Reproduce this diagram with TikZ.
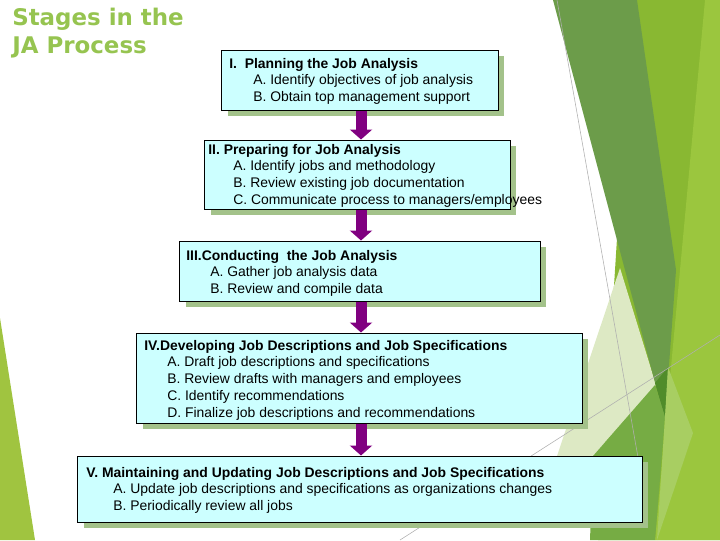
\documentclass[tikz,border=0pt]{standalone}
\usepackage{fontspec}
\setmainfont{Liberation Sans}
\newfontfamily\titlefont{DejaVu Sans}
\usetikzlibrary{arrows.meta,shadows}
\definecolor{boxcyan}{RGB}{204,255,255}
\definecolor{shadowgreen}{RGB}{163,194,138}
\definecolor{arrowpurple}{RGB}{128,0,128}
\definecolor{titlegreen}{RGB}{150,196,80}
\definecolor{wedgegreen}{RGB}{160,196,64}
\definecolor{darkleaf}{RGB}{108,156,74}
\definecolor{deepleaf}{RGB}{80,140,42}
\definecolor{limeleaf}{RGB}{137,184,50}
\definecolor{lightlime}{RGB}{155,198,62}
\definecolor{paleleaf}{RGB}{221,233,196}
\definecolor{midleaf}{RGB}{118,172,68}
\definecolor{softlime}{RGB}{168,206,98}
\definecolor{thingray}{RGB}{175,175,175}
\newcommand{\stageitem}[2][0.6cm]{\hspace*{#1}#2}
\newcommand{\stagelines}[1]{\begin{tabular}[t]{@{}l@{}}#1\end{tabular}}
\tikzset{
  stagebox/.style={
    draw=black,
    line width=0.7pt,
    fill=boxcyan,
    inner sep=0pt,
    drop shadow={shadow xshift=0.15cm, shadow yshift=-0.16cm, fill=shadowgreen, opacity=1}
  },
  stagetext/.style={
    anchor=base west,
    inner sep=0pt,
    font=\fontsize{9.9}{12.05}\selectfont
  },
  stagearrow/.style={
    draw=arrowpurple,
    line width=0.275cm,
    -{Triangle[width=0.55cm,length=0.25cm,fill=arrowpurple]}
  }
}

\begin{document}
\begin{tikzpicture}[x=0.025cm, y=-0.025cm]
  \useasboundingbox (0,0) rectangle (720,540);
  % background leaves
  \fill[wedgegreen] (0,318) -- (35,540) -- (0,540) -- cycle;
  \fill[limeleaf] (632,0) -- (720,0) -- (720,540) -- (598,540) -- cycle;
  \fill[lightlime] (705,0) -- (720,0) -- (720,540) -- (655,540) -- (680,270) -- cycle;
  \fill[paleleaf] (620,268) -- (656,385) -- (593,456) -- (555,462) -- cycle;
  \fill[darkleaf] (553,0) -- (637,0) -- (676,270) -- (665,420) -- cycle;
  \fill[deepleaf] (655,383) -- (668,367) -- (665,417) -- cycle;
  \fill[midleaf] (593,456) -- (655,385) -- (665,417) -- (655,540) -- (590,540) -- cycle;
  \fill[softlime] (668,367) -- (693,433) -- (657,540) -- (665,417) -- cycle;
  \draw[thingray, line width=0.4pt] (557,0) -- (642,480);
  \draw[thingray, line width=0.4pt] (400,540) -- (720,335);

  % title
  \node[anchor=base west, inner sep=0pt, text=titlegreen,
        font=\titlefont\bfseries\fontsize{16.3}{20.6}\selectfont] (title) at (12,25)
        {\stagelines{Stages in the\\JA Process}};

  % stages
  \node[stagebox, minimum width=6.9cm, minimum height=1.5cm] (s1) at (360,80) {};
  \node[stagebox, minimum width=7.625cm, minimum height=1.725cm] (s2) at (357.5,174.5) {};
  \node[stagebox, minimum width=9cm, minimum height=1.5cm] (s3) at (360,271) {};
  \node[stagebox, minimum width=11.125cm, minimum height=2.25cm] (s4) at (359.5,378) {};
  \node[stagebox, minimum width=14.1cm, minimum height=1.65cm] (s5) at (360,489) {};

  \node[stagetext] (t1) at (229,68) {\stagelines{\textbf{I.\ \ Planning the Job Analysis}\\
    \stageitem{A. Identify objectives of job analysis}\\
    \stageitem{B. Obtain top management support}}};
  \node[stagetext] (t2) at (208,154) {\stagelines{\textbf{II. Preparing for Job Analysis}\\
    \stageitem[0.625cm]{A. Identify jobs and methodology}\\
    \stageitem[0.625cm]{B. Review existing job documentation}\\
    \stageitem[0.625cm]{C. Communicate process to managers/employees}}};
  \node[stagetext] (t3) at (186,260) {\stagelines{\textbf{III.Conducting\ \ the Job Analysis}\\
    \stageitem{A. Gather job analysis data}\\
    \stageitem{B. Review and compile data}}};
  \node[stagetext] (t4) at (144,350) {\stagelines{\textbf{IV.Developing Job Descriptions and Job Specifications}\\
    \stageitem[0.575cm]{A. Draft job descriptions and specifications}\\
    \stageitem[0.575cm]{B. Review drafts with managers and employees}\\
    \stageitem[0.575cm]{C. Identify recommendations}\\
    \stageitem[0.575cm]{D. Finalize job descriptions and recommendations}}};
  \node[stagetext] (t5) at (86,477) {\stagelines{\textbf{V. Maintaining and Updating Job Descriptions and Job Specifications}\\
    \stageitem[0.675cm]{A. Update job descriptions and specifications as organizations changes}\\
    \stageitem[0.675cm]{B. Periodically review all jobs}}};

  % arrows
  \draw[stagearrow] ([xshift=0.025cm]s1.south) -- ([xshift=0.025cm]s1.south |- s2.north);
  \draw[stagearrow] ([xshift=0.025cm]s1.south |- s2.south) -- ([xshift=0.025cm]s1.south |- s3.north);
  \draw[stagearrow] ([xshift=0.025cm]s3.south) -- ([xshift=0.025cm]s3.south |- s4.north);
  \draw[stagearrow] ([xshift=0.025cm]s3.south |- s4.south) -- ([xshift=0.025cm]s3.south |- s5.north);
\end{tikzpicture}
\end{document}
